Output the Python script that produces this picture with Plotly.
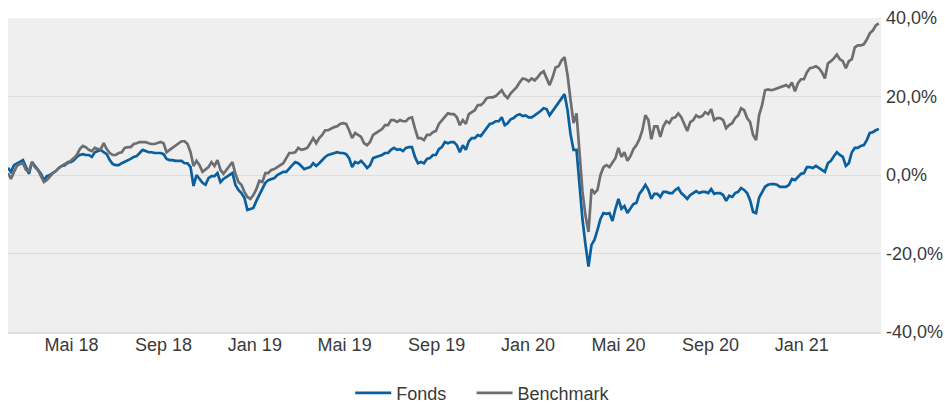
import pandas as pd
import plotly.graph_objects as go

# Cumulative performance in percent, sampled every 4 calendar days from 5 Feb 2018
start_date = "2018-02-05"
step_days = 4

fonds = [
    1.8, 0.8, 2.5, 3.0, 3.3, 3.8, 2.0, 0.3, 3.3, 2.3,
    1.5, 0.3, -1.3, -0.3, 0.0, 0.5, 1.0, 1.8, 2.3, 2.5,
    3.3, 3.3, 3.8, 4.6, 5.1, 5.3, 5.1, 5.1, 4.6, 5.8,
    6.1, 6.4, 5.8, 5.3, 3.8, 2.8, 2.5, 2.5, 3.0, 3.3,
    3.6, 4.1, 4.6, 4.8, 5.6, 6.4, 6.1, 5.8, 5.8, 5.6,
    5.6, 5.6, 5.3, 4.1, 3.8, 3.8, 3.6, 3.6, 3.6, 3.0,
    3.0, 2.0, -2.8, 0.0, -1.0, -2.0, -2.5, -0.8, -0.3, -0.3,
    0.5, -1.8, -1.0, -0.5, 0.0, 0.5, -2.5, -3.8, -4.6, -5.8,
    -8.9, -8.6, -8.4, -6.6, -5.1, -3.3, -2.0, -1.3, -1.0, -0.8,
    0.0, 0.5, 0.8, 0.8, 1.8, 2.5, 3.3, 3.0, 2.3, 1.5,
    1.8, 2.0, 3.0, 2.3, 3.0, 3.8, 4.6, 5.1, 5.3, 5.6,
    5.8, 5.6, 5.6, 5.3, 4.3, 2.0, 3.3, 3.0, 3.6, 2.8,
    1.8, 2.5, 4.3, 4.6, 4.8, 5.1, 5.6, 5.6, 6.4, 6.9,
    6.4, 6.6, 6.1, 6.9, 7.1, 7.1, 4.6, 3.0, 3.3, 3.0,
    4.1, 4.3, 5.1, 5.1, 6.6, 7.1, 8.4, 8.1, 8.4, 8.4,
    7.6, 5.8, 7.6, 6.4, 8.6, 9.4, 9.4, 10.2, 9.9, 10.9,
    12.2, 13.0, 13.2, 13.7, 13.7, 14.7, 12.7, 13.2, 14.2, 14.5,
    15.2, 15.5, 15.0, 15.2, 14.7, 14.7, 15.2, 15.7, 16.3, 17.0,
    16.8, 15.2, 16.3, 17.5, 18.5, 19.6, 20.6, 16.5, 10.4, 6.4,
    6.4, -2.5, -11.4, -17.8, -23.3, -17.8, -16.5, -14.0, -11.2, -9.7,
    -9.9, -9.7, -11.7, -8.6, -6.1, -8.6, -7.9, -9.7, -8.6, -7.4,
    -7.1, -4.8, -3.8, -2.5, -3.8, -6.1, -4.8, -4.8, -5.6, -4.3,
    -4.3, -4.6, -4.6, -3.8, -3.3, -4.6, -5.3, -6.1, -5.1, -4.6,
    -4.1, -4.6, -4.3, -4.3, -4.6, -3.6, -4.8, -4.6, -4.6, -5.1,
    -6.6, -5.3, -5.6, -4.6, -4.3, -3.3, -3.8, -4.6, -6.4, -9.4,
    -9.7, -5.8, -4.3, -3.0, -2.5, -2.3, -2.3, -2.5, -3.0, -3.0,
    -3.0, -2.5, -1.0, -1.3, -0.5, 0.3, 0.5, 2.0, 2.0, 1.8,
    2.3, 1.8, 1.3, 0.8, 3.0, 3.6, 4.8, 5.8, 5.1, 4.6,
    2.3, 3.0, 5.8, 6.9, 6.9, 7.4, 7.6, 8.9, 10.7, 10.9,
    11.4, 11.7,
]

benchmark = [
    0.5, -1.0, 0.8, 2.3, 2.8, 3.0, 1.3, 1.0, 3.3, 2.0,
    1.3, -0.3, -1.8, -1.3, -0.5, 0.5, 1.0, 1.8, 2.3, 2.8,
    3.0, 3.6, 4.3, 5.1, 6.6, 7.4, 7.1, 6.4, 6.1, 6.9,
    6.6, 6.6, 8.1, 6.6, 5.6, 5.1, 5.1, 5.6, 5.8, 6.9,
    7.1, 7.1, 7.9, 8.1, 8.4, 8.4, 8.4, 8.1, 7.9, 7.9,
    8.1, 8.4, 8.1, 5.8, 6.4, 6.9, 7.4, 8.1, 8.6, 8.6,
    7.9, 5.8, 2.3, 3.6, 2.5, 0.8, 1.3, 2.0, 3.3, 2.3,
    3.8, 1.3, 0.3, 1.3, 2.3, 3.3, 0.3, -1.8, -2.5, -4.3,
    -5.6, -6.1, -5.1, -3.6, -1.5, -1.8, 0.5, 0.5, 1.3, 1.5,
    2.0, 2.5, 3.0, 4.3, 5.6, 5.6, 5.8, 6.9, 6.4, 6.6,
    6.9, 8.1, 9.4, 8.1, 9.4, 10.2, 11.4, 11.4, 11.9, 12.2,
    12.4, 13.0, 13.2, 13.0, 11.4, 9.4, 10.7, 10.2, 9.7, 8.1,
    7.6, 8.4, 10.2, 10.7, 11.2, 11.7, 12.7, 12.7, 14.0, 14.0,
    13.5, 14.0, 13.7, 13.7, 14.5, 14.7, 11.9, 9.4, 9.4, 8.9,
    10.2, 10.2, 10.9, 11.2, 13.0, 14.0, 14.7, 15.7, 15.5, 15.5,
    14.7, 12.7, 14.0, 13.0, 15.5, 16.0, 16.5, 17.8, 17.8, 18.5,
    19.6, 19.8, 19.8, 20.1, 20.8, 21.6, 20.3, 19.6, 20.8, 21.6,
    22.4, 23.6, 24.6, 24.4, 23.9, 24.6, 24.1, 24.9, 25.9, 26.4,
    24.6, 22.9, 24.9, 27.4, 27.7, 29.2, 30.0, 25.4, 19.1, 13.2,
    15.7, 6.4, -4.3, -10.4, -14.5, -3.6, -4.6, -3.8, 0.0, 2.0,
    2.5, 2.0, 3.0, 4.3, 6.9, 4.6, 5.8, 3.6, 4.8, 6.6,
    7.6, 9.1, 11.4, 15.2, 14.0, 9.1, 12.4, 12.4, 9.7, 12.4,
    13.7, 13.2, 14.5, 14.7, 15.7, 14.7, 13.0, 11.2, 13.5, 14.0,
    15.2, 14.7, 15.0, 16.0, 15.5, 16.8, 14.0, 14.5, 14.5, 14.0,
    11.9, 12.7, 13.2, 14.5, 15.2, 17.0, 16.5, 14.5, 13.5, 10.2,
    8.9, 15.2, 17.8, 21.6, 21.8, 21.6, 21.8, 22.1, 22.4, 22.6,
    22.9, 22.4, 23.6, 21.3, 23.4, 24.4, 24.4, 26.2, 27.2, 27.4,
    27.7, 27.2, 26.2, 24.6, 28.4, 29.0, 29.7, 30.7, 29.5, 29.0,
    27.2, 29.0, 29.5, 32.5, 33.0, 33.0, 33.3, 34.5, 36.1, 36.8,
    38.1, 38.6,
]

dates = pd.date_range(start_date, periods=len(fonds), freq=f"{step_days}D")

# Axis ticks
x_tick_dates = ["2018-05-01", "2018-09-01", "2019-01-01", "2019-05-01",
                "2019-09-01", "2020-01-01", "2020-05-01", "2020-09-01",
                "2021-01-01"]
x_tick_labels = ["Mai 18", "Sep 18", "Jan 19", "Mai 19", "Sep 19",
                 "Jan 20", "Mai 20", "Sep 20", "Jan 21"]
y_tick_values = [-40, -20, 0, 20, 40]
y_tick_labels = ["-40,0%", "-20,0%", "0,0%", "20,0%", "40,0%"]

FONT = "Arial, 'Liberation Sans', sans-serif"
TEXT = "#3a3a3a"
FS = 18

fig = go.Figure()
fig.add_trace(go.Scatter(
    x=dates, y=fonds, name="Fonds", mode="lines",
    line=dict(color="#0a5f9e", width=2.7), legend="legend",
))
fig.add_trace(go.Scatter(
    x=dates, y=benchmark, name="Benchmark", mode="lines",
    line=dict(color="#6c6e71", width=2.7), legend="legend2",
))

legend_style = dict(
    orientation="h", xanchor="left", y=-0.195, yanchor="middle",
    font=dict(family=FONT, size=FS, color=TEXT),
    itemwidth=36, bgcolor="rgba(0,0,0,0)",
)

fig.update_layout(
    width=945, height=403,
    margin=dict(l=8, r=64, t=18, b=71, autoexpand=False),
    paper_bgcolor="white",
    plot_bgcolor="#efefef",
    font=dict(family=FONT, size=FS, color=TEXT),
    showlegend=True,
    legend=dict(x=0.392, **legend_style),
    legend2=dict(x=0.531, **legend_style),
    hovermode=False,
)

fig.update_xaxes(
    range=["2018-02-05", "2021-04-17"],
    tickmode="array", tickvals=x_tick_dates, ticktext=x_tick_labels,
    tickangle=0, automargin=False,
    showgrid=False, zeroline=False,
    showline=True, linecolor="#dedede", linewidth=2,
    ticks="", ticklabelstandoff=-5,
    tickfont=dict(family=FONT, size=FS, color=TEXT),
)
fig.update_yaxes(
    range=[-40, 40], side="right", automargin=False,
    tickmode="array", tickvals=y_tick_values, ticktext=y_tick_labels,
    showgrid=True, gridcolor="#dcdcdc", gridwidth=1,
    zeroline=False, showline=False, ticks="",
    ticklabelstandoff=4,
    tickfont=dict(family=FONT, size=FS, color=TEXT),
)

fig.write_html("out.html")
